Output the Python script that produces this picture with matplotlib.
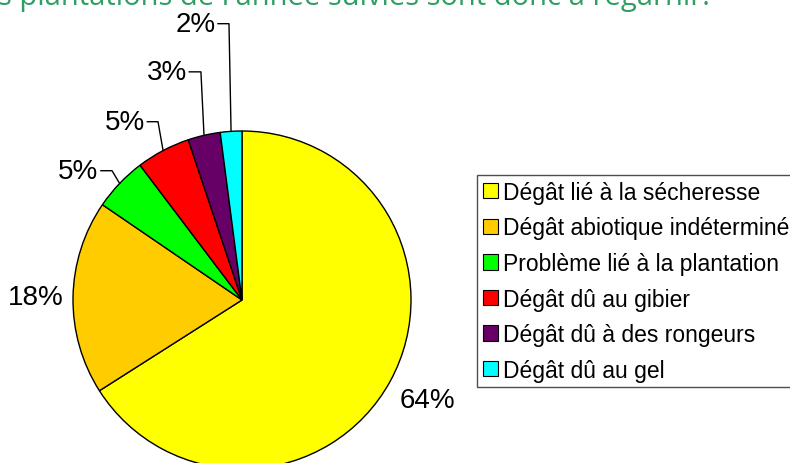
import numpy as np
import matplotlib
matplotlib.use("Agg")
from matplotlib import pyplot as plt

# data
categories = ['Dégât lié à la sécheresse', 'Dégât abiotique indéterminé', 'Problème lié à la plantation',
              'Dégât dû au gibier', 'Dégât dû à des rongeurs', 'Dégât dû au gel']
percents = [64, 18, 5, 5, 3, 2]
colors = ['#FFFF00', '#FFCC00', '#00FF00', '#FF0000', '#660066', '#00FFFF']
header = "s plantations de l'année suivies sont donc à regarnir."

plt.rcParams['font.family'] = ['Liberation Sans', 'DejaVu Sans']

W, H = 790, 464
fig = plt.figure(figsize=(W / 100, H / 100), dpi=100)

# pie: centre (242, 301) px, radius 169 px
cx, cy, r = 242, 301, 169
ax = fig.add_axes([(cx - r) / W, (H - cy - r) / H, 2 * r / W, 2 * r / H])

wedges, _ = ax.pie(percents, colors=colors, startangle=90, counterclock=False, radius=1,
                   wedgeprops=dict(edgecolor='black', linewidth=1.0))
ax.set_xlim(-1, 1)
ax.set_ylim(-1, 1)
ax.axis('off')
for w in wedges:
    w.set_clip_on(False)

# label positions (text anchor, elbow x) in pie units
label_pos = [
    dict(xy=(1.10, -0.59), ha='center', elbow=None),
    dict(xy=(-1.22, 0.02), ha='center', elbow=None),
    dict(xy=(-0.85, 0.765), ha='right', elbow=-0.769),
    dict(xy=(-0.575, 1.055), ha='right', elbow=-0.497),
    dict(xy=(-0.327, 1.35), ha='right', elbow=-0.243),
    dict(xy=(-0.157, 1.635), ha='right', elbow=-0.077),
]

for w, p, pos in zip(wedges, percents, label_pos):
    tx, ty = pos['xy']
    ax.text(tx, ty, f'{p}%', ha=pos['ha'], va='center', fontsize=20, color='black', clip_on=False)
    if pos['elbow'] is not None:
        mid = np.deg2rad((w.theta1 + w.theta2) / 2)
        ex, ey = np.cos(mid), np.sin(mid)
        ax.plot([tx + 0.015, pos['elbow'], ex], [ty, ty, ey], color='black', linewidth=1.0, clip_on=False)

leg = fig.legend(wedges, categories, loc='upper left', bbox_to_anchor=(477 / W, 1 - 176 / H),
                 bbox_transform=fig.transFigure, borderaxespad=0, fontsize=16.5, frameon=True,
                 fancybox=False, handlelength=0.65, handleheight=0.65, handletextpad=0.25,
                 labelspacing=0.55, borderpad=0.25)
leg.get_frame().set_edgecolor('#222222')
leg.get_frame().set_linewidth(1.0)
for h in leg.legend_handles:
    h.set_edgecolor('black')
    h.set_linewidth(0.8)

fig.text(-2 / W, 1 - 5 / H, header, ha='left', va='baseline', fontsize=21, color='#2F9E62',
         family=['Open Sans', 'DejaVu Sans'])

fig.savefig('out.png', dpi=100)
